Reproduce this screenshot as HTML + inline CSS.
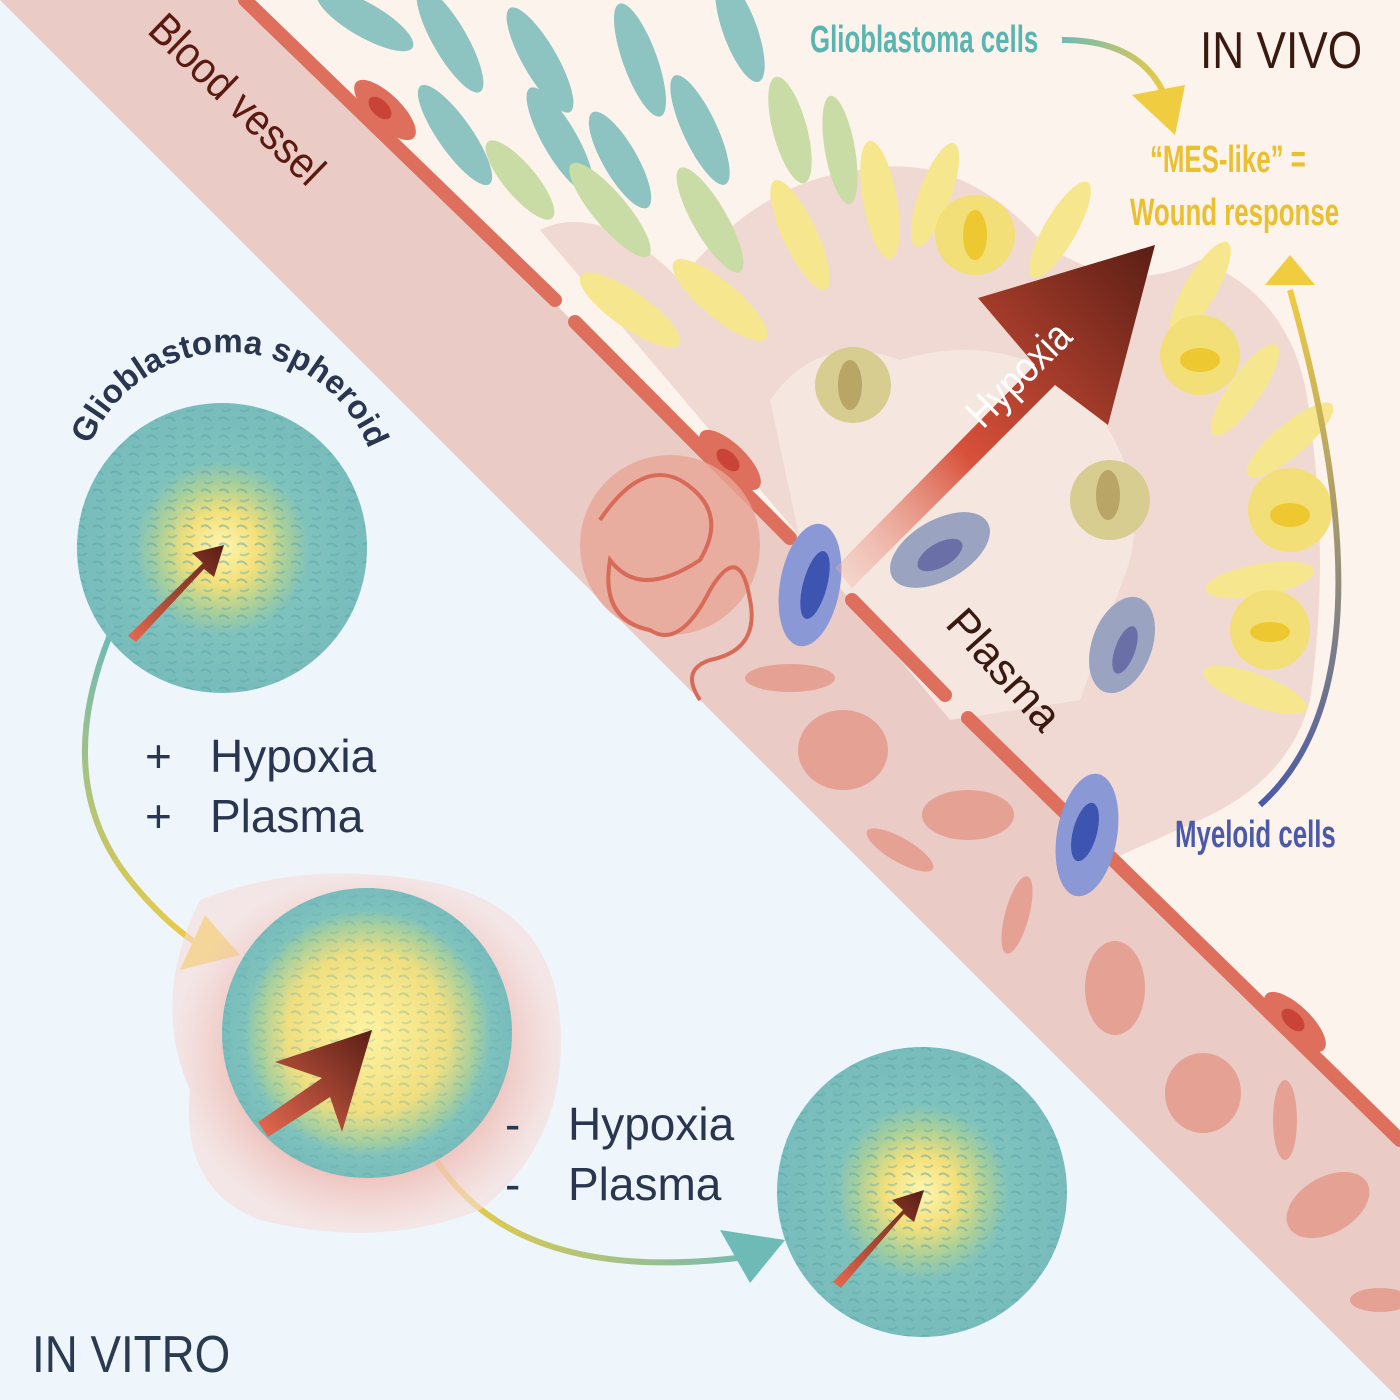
<!DOCTYPE html>
<html><head><meta charset="utf-8"><style>
html,body{margin:0;padding:0;background:#eef6fc;}
svg{display:block;}
text{font-family:"Liberation Sans",sans-serif;}
</style></head><body>
<svg width="1400" height="1400" viewBox="0 0 1400 1400" xmlns="http://www.w3.org/2000/svg">
<defs>
<radialGradient id="sph" cx="50%" cy="50%" r="50%">
<stop offset="0" stop-color="#fff6b0"/><stop offset="0.25" stop-color="#f3e07a"/><stop offset="0.45" stop-color="#a8cf9a"/><stop offset="0.6" stop-color="#7fc2bd"/><stop offset="1" stop-color="#78bcbc"/></radialGradient>
<radialGradient id="sph2" cx="50%" cy="50%" r="50%">
<stop offset="0" stop-color="#fff3a0"/><stop offset="0.55" stop-color="#f0df80"/><stop offset="0.75" stop-color="#a6cf9e"/><stop offset="0.85" stop-color="#7fc2bd"/><stop offset="1" stop-color="#78bcbc"/></radialGradient>
<radialGradient id="halo" cx="50%" cy="50%" r="50%">
<stop offset="0.5" stop-color="#e9a9a0"/><stop offset="1" stop-color="#f7dcd8" stop-opacity="0.6"/></radialGradient>
<linearGradient id="harrow" x1="0" y1="1" x2="1" y2="0">
<stop offset="0" stop-color="#f2b8a8" stop-opacity="0.3"/><stop offset="0.4" stop-color="#d8503a"/><stop offset="1" stop-color="#5a1e14"/></linearGradient>
<linearGradient id="sarrow" x1="0" y1="1" x2="1" y2="0">
<stop offset="0" stop-color="#e86a50"/><stop offset="1" stop-color="#5a1e14"/></linearGradient>
<linearGradient id="c1" x1="0" y1="0" x2="0" y2="1"><stop offset="0" stop-color="#6dbab6"/><stop offset="1" stop-color="#f0cc40"/></linearGradient>
<linearGradient id="c2" x1="0" y1="0" x2="0" y2="1"><stop offset="0" stop-color="#f0cc40"/><stop offset="1" stop-color="#4a5aa8"/></linearGradient>
<linearGradient id="c3" x1="0" y1="0" x2="1" y2="0"><stop offset="0" stop-color="#6dbab6"/><stop offset="1" stop-color="#f0cc40"/></linearGradient>
<linearGradient id="c4" x1="0" y1="0" x2="1" y2="0"><stop offset="0" stop-color="#f0cc40"/><stop offset="1" stop-color="#6dbab6"/></linearGradient>
<pattern id="dash" width="18" height="18" patternUnits="userSpaceOnUse"><path d="M3 5 q5 -4 10 2" stroke="#5aa6a6" stroke-width="2" fill="none" opacity="0.5"/><path d="M6 14 q4 3 9 -1" stroke="#5aa6a6" stroke-width="2" fill="none" opacity="0.4"/></pattern>
</defs>

<rect width="1400" height="1400" fill="#eef6fc"/>
<polygon points="0,0 1400,0 1400,1400" fill="#ebcbc5"/>
<polygon points="248,0 1400,0 1400,1140" fill="#fcf3ec"/>
<path d="M540,230 Q600,200 680,280 Q760,180 860,170 Q960,150 1040,240 Q1120,300 1200,260 Q1300,300 1310,420 Q1330,560 1310,700 Q1290,780 1200,820 L1110,860 L820,560 Z" fill="#f0d6d0" opacity="0.9"/>
<path d="M770,400 Q820,330 900,360 Q1000,330 1080,390 Q1150,470 1130,560 L1080,700 L950,720 L800,540 Z" fill="#f5e6e0"/>

<line x1="245" y1="0" x2="555" y2="300" stroke="#de6f5c" stroke-width="14" stroke-linecap="round"/>
<line x1="575" y1="322" x2="790" y2="538" stroke="#de6f5c" stroke-width="14" stroke-linecap="round"/>
<line x1="852" y1="600" x2="945" y2="695" stroke="#de6f5c" stroke-width="14" stroke-linecap="round"/>
<line x1="968" y1="718" x2="1400" y2="1140" stroke="#de6f5c" stroke-width="14" stroke-linecap="round"/>
<ellipse cx="385" cy="110" rx="40" ry="16" transform="rotate(44 385 110)" fill="#de6f5c"/>
<ellipse cx="380" cy="108" rx="14" ry="8" transform="rotate(44 380 108)" fill="#c94436"/>
<ellipse cx="730" cy="460" rx="40" ry="16" transform="rotate(44 730 460)" fill="#de6f5c"/>
<ellipse cx="728" cy="460" rx="14" ry="8" transform="rotate(44 728 460)" fill="#c94436"/>
<ellipse cx="1295" cy="1022" rx="40" ry="16" transform="rotate(44 1295 1022)" fill="#de6f5c"/>
<ellipse cx="1293" cy="1020" rx="14" ry="8" transform="rotate(44 1293 1020)" fill="#c94436"/>

<g fill="#e5a194">
<ellipse cx="843" cy="750" rx="45" ry="40"/>
<ellipse cx="968" cy="815" rx="46" ry="25"/>
<ellipse cx="1115" cy="988" rx="30" ry="47"/>
<ellipse cx="1203" cy="1093" rx="38" ry="40"/>
<ellipse cx="1328" cy="1205" rx="45" ry="28" transform="rotate(-30 1328 1205)"/>
<ellipse cx="790" cy="678" rx="45" ry="14"/>
<ellipse cx="900" cy="850" rx="38" ry="12" transform="rotate(30 900 850)"/>
<ellipse cx="1017" cy="915" rx="12" ry="40" transform="rotate(15 1017 915)"/>
<ellipse cx="1285" cy="1120" rx="12" ry="40"/>
<ellipse cx="1380" cy="1300" rx="30" ry="12"/>
</g>
<circle cx="670" cy="545" r="90" fill="#e8a596" opacity="0.8"/>
<path d="M600,520 q40,-60 80,-40 q50,30 20,80 q-60,40 -90,0 q-10,60 40,70 q30,20 60,-40 q30,-50 40,10 q10,50 -40,60 q-30,10 -10,40" stroke="#d86a58" stroke-width="4" fill="none"/>

<g fill="#8dc3c0">
<ellipse cx="365" cy="20" rx="55" ry="17" transform="rotate(30 365 20)"/>
<ellipse cx="450" cy="40" rx="60" ry="17" transform="rotate(60 450 40)"/>
<ellipse cx="540" cy="60" rx="60" ry="17" transform="rotate(60 540 60)"/>
<ellipse cx="455" cy="135" rx="60" ry="17" transform="rotate(55 455 135)"/>
<ellipse cx="560" cy="140" rx="60" ry="17" transform="rotate(60 560 140)"/>
<ellipse cx="640" cy="60" rx="60" ry="17" transform="rotate(70 640 60)"/>
<ellipse cx="700" cy="130" rx="60" ry="17" transform="rotate(65 700 130)"/>
<ellipse cx="740" cy="30" rx="55" ry="17" transform="rotate(70 740 30)"/>
<ellipse cx="620" cy="160" rx="55" ry="17" transform="rotate(60 620 160)"/>
</g>
<g fill="#c9dca6">
<ellipse cx="610" cy="210" rx="60" ry="17" transform="rotate(50 610 210)"/>
<ellipse cx="710" cy="220" rx="60" ry="17" transform="rotate(60 710 220)"/>
<ellipse cx="790" cy="130" rx="55" ry="17" transform="rotate(75 790 130)"/>
<ellipse cx="840" cy="150" rx="55" ry="15" transform="rotate(80 840 150)"/>
<ellipse cx="520" cy="180" rx="50" ry="16" transform="rotate(50 520 180)"/>
</g>
<g fill="#f6e68e">
<ellipse cx="630" cy="310" rx="60" ry="18" transform="rotate(35 630 310)"/>
<ellipse cx="720" cy="300" rx="60" ry="18" transform="rotate(40 720 300)"/>
<ellipse cx="800" cy="235" rx="60" ry="17" transform="rotate(65 800 235)"/>
<ellipse cx="880" cy="200" rx="60" ry="17" transform="rotate(80 880 200)"/>
<ellipse cx="935" cy="195" rx="55" ry="16" transform="rotate(-70 935 195)"/>
<ellipse cx="1060" cy="230" rx="55" ry="16" transform="rotate(-60 1060 230)"/>
<ellipse cx="1200" cy="290" rx="55" ry="16" transform="rotate(-60 1200 290)"/>
<ellipse cx="1245" cy="390" rx="55" ry="16" transform="rotate(-55 1245 390)"/>
<ellipse cx="1290" cy="440" rx="55" ry="16" transform="rotate(-40 1290 440)"/>
<ellipse cx="1260" cy="580" rx="55" ry="16" transform="rotate(-10 1260 580)"/>
<ellipse cx="1255" cy="690" rx="55" ry="16" transform="rotate(20 1255 690)"/>
</g>
<g fill="#f3df78">
<circle cx="975" cy="235" r="40"/><circle cx="1200" cy="355" r="40"/><circle cx="1290" cy="510" r="42"/><circle cx="1270" cy="630" r="40"/>
</g>
<g fill="#eec830"><ellipse cx="975" cy="235" rx="12" ry="25"/><ellipse cx="1200" cy="360" rx="20" ry="12"/><ellipse cx="1290" cy="515" rx="20" ry="12"/><ellipse cx="1270" cy="632" rx="20" ry="10"/></g>
<g fill="#d8cd90"><circle cx="853" cy="385" r="38"/><circle cx="1110" cy="500" r="40"/></g>
<g fill="#b9a566"><ellipse cx="850" cy="385" rx="12" ry="25"/><ellipse cx="1108" cy="495" rx="12" ry="25"/></g>
<g fill="#9aa3c0"><ellipse cx="940" cy="550" rx="55" ry="30" transform="rotate(-30 940 550)"/><ellipse cx="1122" cy="645" rx="30" ry="50" transform="rotate(20 1122 645)"/></g>
<g fill="#6a6fa8"><ellipse cx="940" cy="555" rx="25" ry="12" transform="rotate(-30 940 555)"/><ellipse cx="1125" cy="650" rx="10" ry="25" transform="rotate(20 1125 650)"/></g>
<g fill="#8a98d6"><ellipse cx="810" cy="585" rx="30" ry="62" transform="rotate(10 810 585)"/><ellipse cx="1087" cy="835" rx="30" ry="62" transform="rotate(10 1087 835)"/></g>
<g fill="#3d55b0"><ellipse cx="815" cy="585" rx="12" ry="35" transform="rotate(15 815 585)"/><ellipse cx="1085" cy="832" rx="12" ry="30" transform="rotate(15 1085 832)"/></g>

<polygon points="835,568 1035,365 978,298 1155,245 1108,425 1055,385 852,588" fill="url(#harrow)"/>
<text x="0" y="0" transform="translate(983,430) rotate(-45) scale(0.85,1)" font-size="42" fill="#fff">Hypoxia</text>

<path d="M1062,40 Q1150,40 1170,110" stroke="url(#c3)" stroke-width="6" fill="none"/>
<polygon points="1132,95 1185,85 1175,135" fill="#f0cc40"/>
<path d="M1260,805 Q1400,680 1290,290" stroke="url(#c2)" stroke-width="6" fill="none"/>
<polygon points="1265,285 1290,255 1315,285" fill="#f0cc40"/>

<text x="0" y="0" transform="translate(146,32) rotate(44) scale(0.9,1)" font-size="44" fill="#5a1a10">Blood vessel</text>
<text x="0" y="0" transform="translate(944,625) rotate(48)" font-size="44" fill="#3a1a10">Plasma</text>
<text x="0" y="0" transform="translate(810,52) scale(0.68,1)" font-size="38" font-weight="bold" fill="#5ab5b0">Glioblastoma cells</text>
<text x="0" y="0" transform="translate(1200,68) scale(0.85,1)" font-size="52" fill="#3a1a10">IN VIVO</text>
<text x="0" y="0" transform="translate(1150,172) scale(0.68,1)" font-size="38" font-weight="bold" fill="#ebc030">“MES-like” =</text>
<text x="0" y="0" transform="translate(1130,225) scale(0.68,1)" font-size="38" font-weight="bold" fill="#ebc030">Wound response</text>
<text x="0" y="0" transform="translate(1175,847) scale(0.68,1)" font-size="38" font-weight="bold" fill="#4a5aa8">Myeloid cells</text>

<path d="M112,630 Q50,780 130,880 Q170,930 215,955" stroke="url(#c1)" stroke-width="6" fill="none"/>
<polygon points="180,970 240,955 205,915" fill="#f0cc40"/>
<path d="M436,1160 Q520,1290 760,1255" stroke="url(#c4)" stroke-width="6" fill="none"/>
<polygon points="720,1230 785,1240 750,1283" fill="#6dbab6"/>

<path d="M200,900 Q300,860 420,880 Q550,900 560,1020 Q570,1140 480,1210 Q380,1250 260,1220 Q180,1190 190,1090 Q150,1000 200,900 Z" fill="url(#halo)"/>

<circle cx="222" cy="548" r="145" fill="url(#sph)"/><circle cx="222" cy="548" r="145" fill="url(#dash)"/>
<circle cx="367" cy="1033" r="145" fill="url(#sph2)"/><circle cx="367" cy="1033" r="145" fill="url(#dash)" opacity="0.6"/>
<circle cx="922" cy="1192" r="145" fill="url(#sph)"/><circle cx="922" cy="1192" r="145" fill="url(#dash)"/>

<polygon points="128,636 203,563 192,553 224,545 214,577 204,569 136,642" fill="url(#sarrow)"/>
<polygon points="833,1282 903,1210 892,1200 924,1190 914,1222 904,1214 841,1288" fill="url(#sarrow)"/>
<polygon points="258,1122 322,1078 275,1062 372,1030 342,1132 330,1097 268,1137" fill="url(#sarrow)"/>

<path id="arc" d="M90,445 A150,150 0 0 1 365,440" fill="none"/>
<text font-size="33" font-weight="bold" fill="#2a3550"><textPath href="#arc">Glioblastoma spheroid</textPath></text>

<g font-size="46" fill="#2a3550">
<text x="145" y="772">+</text><text x="210" y="772">Hypoxia</text>
<text x="145" y="832">+</text><text x="210" y="832">Plasma</text>
<text x="505" y="1140">-</text><text x="568" y="1140">Hypoxia</text>
<text x="505" y="1200">-</text><text x="568" y="1200">Plasma</text>
</g>
<text x="0" y="0" transform="translate(32,1372) scale(0.88,1)" font-size="52" fill="#2a3a50">IN VITRO</text>
</svg>
</body></html>
